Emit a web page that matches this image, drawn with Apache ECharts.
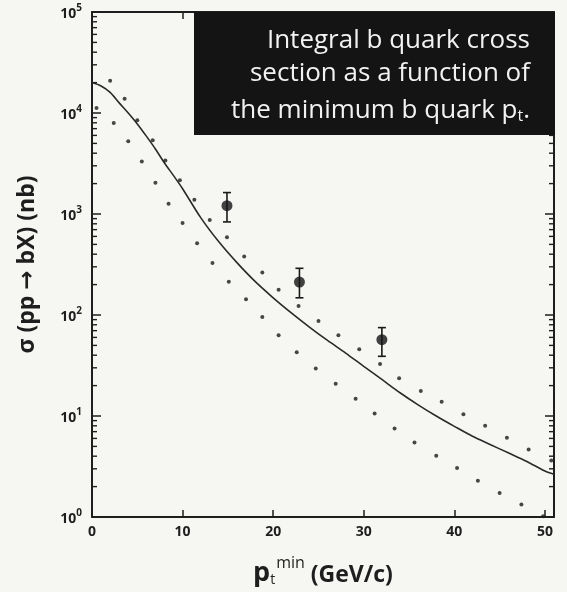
<!DOCTYPE html>
<html>
<head>
<meta charset="utf-8">
<script src="https://cdn.jsdelivr.net/npm/echarts@6/dist/echarts.min.js"></script>
<style>
html,body{margin:0;padding:0;background:#f6f6f3;}
#chart{width:567px;height:592px;}
</style>
</head>
<body>
<div id="chart"></div>
<script>
// Solid theory curve
var curveX = [0,1,2,3,4,5,6,7,8,9,10,12,14,16,18,20,22,24,26,28,30,32,34,36,38,40,42,44,46,48,50,51];
var curveY = [20000,18500,16000,12600,10000,7800,5900,4400,3200,2400,1780,920,530,330,215,148,105,76,56,42,31,23,17,12.9,10,7.9,6.3,5.2,4.3,3.55,2.85,2.65];

// Upper dotted band
var upperX = [2.0,3.6,5.0,6.7,8.1,9.7,11.3,13.0,14.9,16.8,18.8,20.6,22.8,25.0,27.2,29.5,31.8,33.9,36.3,38.6,41.0,43.4,45.8,48.2,50.7];
var upperY = [20900,13800,8500,5370,3390,2160,1380,870,589,380,263,178,123,87,63,45.7,32.7,23.6,17.7,13.8,10.4,8.0,6.1,4.67,3.63];

// Lower dotted band
var lowerX = [0.5,2.4,4.0,5.5,7.0,8.45,10.0,11.6,13.3,15.1,17.0,18.8,20.6,22.6,24.7,26.9,29.1,31.2,33.4,35.6,38.0,40.3,42.6,45.0,47.4,49.8];
var lowerY = [11200,7940,5250,3310,2040,1260,813,513,327,214,143,95.5,63,42.7,29.5,20.9,14.8,10.6,7.5,5.46,4.05,3.05,2.28,1.73,1.33,1.02];

// Measured points with error bars
var measX = [14.9, 22.9, 32.0];
var measY = [1210, 212, 57];
var measLo = [835, 148, 39];
var measHi = [1630, 290, 75];

// Axis ticks
var xTicks = [0,10,20,30,40,50];
var yDecades = [0,1,2,3,4,5];

// Caption lines
var caption = ['Integral b quark cross', 'section as a function of', 'the minimum b quark '];

var X_MAX = 51;
var FONT = '"Open Sans", "DejaVu Sans", sans-serif';
var INK = '#1e1e1e';

function zip(a, b) { return a.map(function (v, i) { return [v, b[i]]; }); }

var minorVals = [];
yDecades.slice(0, -1).forEach(function (d) {
  for (var m = 2; m <= 9; m++) minorVals.push([0, m * Math.pow(10, d)]);
});

var chart = echarts.init(document.getElementById('chart'), null, {renderer: 'canvas'});

var yAxisCommon = {
  type: 'log', logBase: 10, min: 1, max: 100000,
  axisLine: {show: true, onZero: false, lineStyle: {color: INK, width: 2}},
  axisTick: {show: true, inside: true, length: 9, lineStyle: {color: INK, width: 1.5}},
  splitLine: {show: false},
  minorTick: {show: false}
};

var capStyle = {fill: '#f2f2f2', font: '26px ' + FONT, align: 'right', verticalAlign: 'middle'};

var option = {
  backgroundColor: '#f6f6f3',
  animation: false,
  grid: {left: 92, right: 13, top: 12, bottom: 67, containLabel: false},
  xAxis: [{
    type: 'value', min: 0, max: X_MAX, interval: 10, position: 'bottom',
    axisLine: {show: true, onZero: false, lineStyle: {color: INK, width: 2}},
    axisTick: {show: true, inside: true, length: 7, lineStyle: {color: INK, width: 1.5}},
    splitLine: {show: false},
    axisLabel: {
      margin: 8, color: INK, fontFamily: FONT, fontWeight: 'bold', fontSize: 14,
      formatter: function (v) { return xTicks.indexOf(v) >= 0 ? String(v) : ''; }
    },
    name: '{p|p}{t|t}{m|min}{g| (GeV/c)}',
    nameLocation: 'middle', nameGap: 38,
    nameTextStyle: {
      rich: {
        p: {fontFamily: FONT, fontWeight: 'bold', fontSize: 27, color: INK, verticalAlign: 'bottom', lineHeight: 32},
        t: {fontFamily: FONT, fontSize: 14, color: INK, verticalAlign: 'bottom', lineHeight: 24},
        m: {fontFamily: FONT, fontSize: 16, color: INK, verticalAlign: 'top', lineHeight: 30, padding: [0, 0, 0, 1]},
        g: {fontFamily: FONT, fontWeight: 'bold', fontSize: 23, color: INK, verticalAlign: 'bottom', lineHeight: 32}
      }
    }
  }, {
    type: 'value', min: 0, max: X_MAX, interval: 10, position: 'top',
    axisLine: {show: true, onZero: false, lineStyle: {color: INK, width: 2}},
    axisTick: {show: true, inside: true, length: 7, lineStyle: {color: INK, width: 1.5}},
    axisLabel: {show: false}, splitLine: {show: false}
  }],
  yAxis: [Object.assign({}, yAxisCommon, {
    position: 'left',
    axisLabel: {
      margin: 10, color: INK,
      formatter: function (v) {
        var e = Math.round(Math.log(v) / Math.LN10);
        return '{b|10}{s|' + e + '}';
      },
      rich: {
        b: {fontFamily: FONT, fontWeight: 'bold', fontSize: 14, color: INK, verticalAlign: 'bottom', lineHeight: 18},
        s: {fontFamily: FONT, fontWeight: 'bold', fontSize: 10, color: INK, verticalAlign: 'top', lineHeight: 11}
      }
    },
    name: 'σ (pp → bX) (nb)',
    nameLocation: 'middle', nameGap: 53, nameRotate: 90,
    nameTextStyle: {fontFamily: FONT, fontWeight: 'bold', fontSize: 23, color: INK}
  }), Object.assign({}, yAxisCommon, {
    position: 'right', axisLabel: {show: false}
  })],
  graphic: [{
    type: 'rect', left: 194, top: 12, z: 100,
    shape: {width: 361, height: 123},
    style: {fill: '#141414'}
  }, {
    type: 'text', x: 530, y: 41, z: 101,
    style: Object.assign({text: caption[0]}, capStyle)
  }, {
    type: 'text', x: 530, y: 74, z: 101,
    style: Object.assign({text: caption[1]}, capStyle)
  }, {
    type: 'text', x: 530, y: 107, z: 101,
    style: Object.assign({}, capStyle, {
      text: '{n|' + caption[2] + '}{s|p}{sub|t}{n|.}',
      rich: {
        n: {fill: '#f2f2f2', fontFamily: FONT, fontSize: 26, lineHeight: 34, verticalAlign: 'bottom'},
        s: {fill: '#f2f2f2', fontFamily: FONT, fontSize: 26, lineHeight: 34, verticalAlign: 'bottom'},
        sub: {fill: '#f2f2f2', fontFamily: FONT, fontSize: 16, lineHeight: 28, verticalAlign: 'bottom'}
      }
    })
  }],
  series: [{
    type: 'line', name: 'theory', data: zip(curveX, curveY),
    smooth: 0.3, showSymbol: false, symbol: 'none',
    lineStyle: {color: '#2a2a2a', width: 1.6}, z: 3
  }, {
    type: 'scatter', name: 'upper', data: zip(upperX, upperY),
    symbol: 'circle', symbolSize: 4, itemStyle: {color: '#1a1a1a'}, z: 4
  }, {
    type: 'scatter', name: 'lower', data: zip(lowerX, lowerY),
    symbol: 'circle', symbolSize: 4, itemStyle: {color: '#1a1a1a'}, z: 4
  }, {
    type: 'custom', name: 'errors',
    data: measX.map(function (x, i) { return [x, measLo[i], measHi[i]]; }),
    encode: {x: 0, y: [1, 2]},
    renderItem: function (params, api) {
      var lo = api.coord([api.value(0), api.value(1)]);
      var hi = api.coord([api.value(0), api.value(2)]);
      var w = 4;
      var st = {stroke: '#1a1a1a', lineWidth: 1.6};
      return {type: 'group', children: [
        {type: 'line', shape: {x1: lo[0], y1: lo[1], x2: hi[0], y2: hi[1]}, style: st},
        {type: 'line', shape: {x1: lo[0] - w, y1: lo[1], x2: lo[0] + w, y2: lo[1]}, style: st},
        {type: 'line', shape: {x1: hi[0] - w, y1: hi[1], x2: hi[0] + w, y2: hi[1]}, style: st}
      ]};
    }, z: 5
  }, {
    type: 'scatter', name: 'data', data: zip(measX, measY),
    symbol: 'circle', symbolSize: 11, itemStyle: {color: '#141414'}, z: 6
  }, {
    type: 'custom', name: 'minorTicks', data: minorVals,
    encode: {x: 0, y: 1}, clip: false, silent: true,
    renderItem: function (params, api) {
      var v = api.value(1);
      var l = api.coord([0, v]);
      var r = api.coord([X_MAX, v]);
      var st = {stroke: INK, lineWidth: 1.4};
      return {type: 'group', children: [
        {type: 'line', shape: {x1: l[0], y1: l[1], x2: l[0] + 5, y2: l[1]}, style: st},
        {type: 'line', shape: {x1: r[0] - 5, y1: r[1], x2: r[0], y2: r[1]}, style: st}
      ]};
    }, z: 2
  }]
};

chart.setOption(option);
</script>
</body>
</html>
